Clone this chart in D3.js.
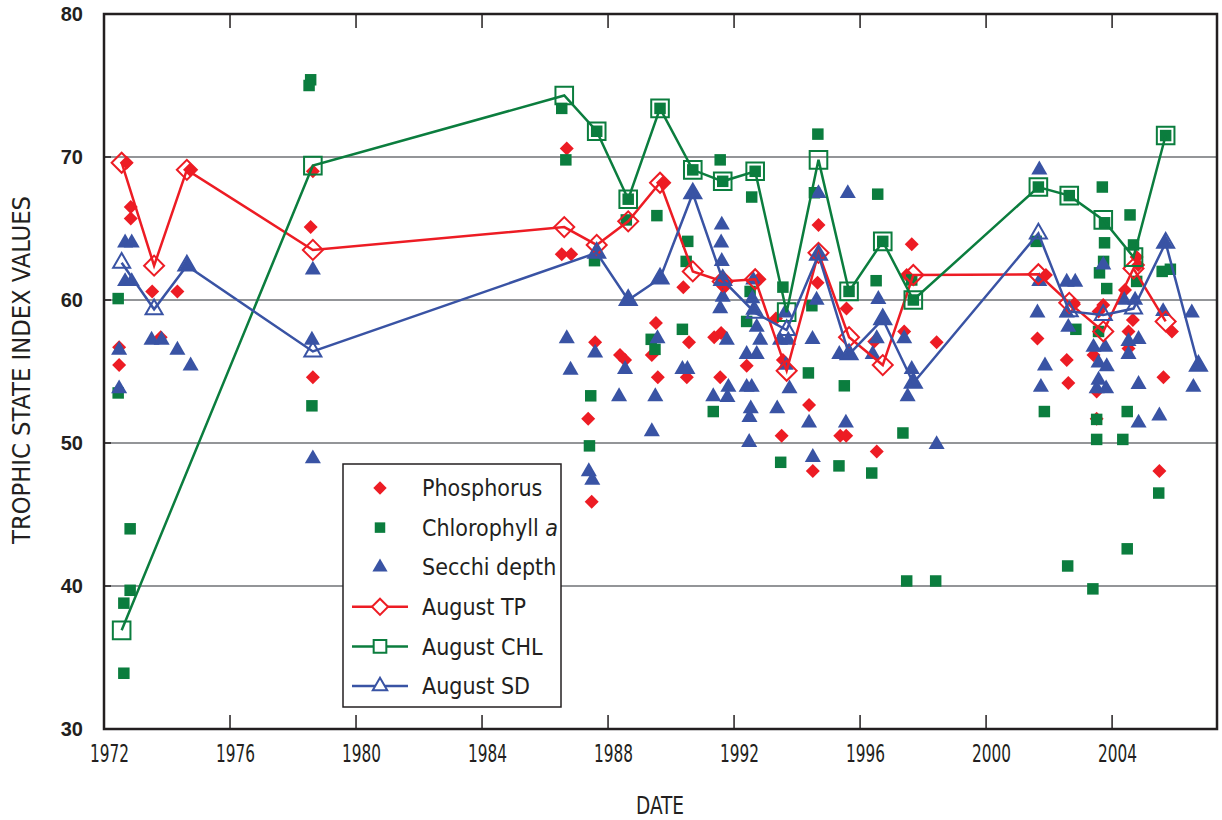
<!DOCTYPE html>
<html>
<head>
<meta charset="utf-8">
<script src="https://cdn.jsdelivr.net/npm/d3@7"></script>
<style>
  body { margin: 0; background: #fff; }
  .narrow { font-family: "Liberation Sans Narrow", "DejaVu Sans Condensed", "Roboto", sans-serif; fill: #231f20; }
  .ytick { font-family: "Liberation Sans", Arial, sans-serif; fill: #231f20; }
</style>
</head>
<body>
<svg class="chart"></svg>
<script>
// decimal year, trophic state index
var phosphorus = [
  [1972.48, 56.7], [1972.48, 55.45], [1972.72, 69.6], [1972.85, 66.5], [1972.85, 65.7],
  [1973.53, 60.6], [1973.80, 57.4], [1974.33, 60.6], [1974.73, 69.1],
  [1978.56, 65.1], [1978.63, 69.0], [1978.63, 54.6],
  [1986.69, 70.6], [1986.53, 63.2], [1986.83, 63.2],
  [1987.59, 57.05], [1987.37, 51.7], [1987.48, 45.9],
  [1988.38, 56.15], [1988.54, 55.8],
  [1989.52, 58.4], [1989.39, 56.15], [1989.58, 54.6], [1989.74, 68.2],
  [1990.39, 60.9], [1990.57, 57.05], [1990.50, 54.6],
  [1991.69, 60.9], [1991.37, 57.4], [1991.59, 57.7], [1991.56, 54.6],
  [1992.77, 61.45], [1992.40, 55.4],
  [1993.33, 58.7], [1993.55, 55.8], [1993.51, 50.5],
  [1994.38, 52.65], [1994.50, 48.05], [1994.68, 65.25], [1994.65, 61.2],
  [1995.57, 59.4], [1995.37, 50.5], [1995.56, 50.5],
  [1996.45, 57.1], [1996.53, 49.4],
  [1997.40, 57.8], [1997.48, 61.75], [1997.64, 63.9], [1998.43, 57.05],
  [2001.63, 57.3], [2001.90, 61.75],
  [2002.79, 59.7], [2002.56, 55.8], [2002.61, 54.2],
  [2003.72, 59.65], [2003.57, 59.2], [2003.41, 56.15], [2003.51, 53.6], [2003.51, 51.7],
  [2004.41, 60.7], [2004.78, 63.0], [2004.83, 62.45], [2004.66, 58.6], [2004.52, 57.8], [2004.52, 56.6],
  [2005.90, 57.8], [2005.63, 54.6], [2005.50, 48.05]
];

var chlorophyll = [
  [1972.45, 60.1], [1972.45, 53.5], [1972.83, 44.0], [1972.83, 39.7], [1972.63, 38.8], [1972.63, 33.9],
  [1978.56, 75.4], [1978.51, 75.0], [1978.60, 52.6],
  [1986.53, 73.4], [1986.66, 69.8],
  [1987.57, 62.75], [1987.45, 53.3], [1987.41, 49.8], [1987.64, 71.8],
  [1988.58, 65.6], [1988.64, 67.05],
  [1989.55, 65.9], [1989.37, 57.25], [1989.49, 56.55], [1989.65, 73.4],
  [1990.36, 57.95], [1990.53, 64.1], [1990.48, 62.7], [1990.69, 69.1],
  [1991.56, 69.8], [1991.34, 52.2], [1991.64, 68.3],
  [1992.56, 67.2], [1992.51, 60.6], [1992.40, 58.5], [1992.67, 69.0],
  [1993.55, 60.9], [1993.48, 48.65],
  [1994.66, 71.6], [1994.55, 67.5], [1994.47, 59.6], [1994.36, 54.9],
  [1995.50, 54.0], [1995.33, 48.4], [1995.65, 60.6],
  [1996.56, 67.4], [1996.51, 61.35], [1996.37, 47.9], [1996.72, 64.1],
  [1997.64, 61.4], [1997.36, 50.7], [1997.48, 40.35], [1997.69, 60.0],
  [1998.40, 40.35],
  [2001.59, 64.1], [2001.85, 52.2], [2001.66, 67.9],
  [2002.85, 57.95], [2002.59, 41.4], [2002.64, 67.3],
  [2003.69, 67.9], [2003.76, 65.4], [2003.76, 64.0], [2003.73, 62.7], [2003.60, 61.9],
  [2003.83, 60.8], [2003.57, 57.8], [2003.51, 51.65], [2003.51, 50.25], [2003.39, 39.8],
  [2004.34, 50.25], [2004.48, 52.2], [2004.48, 42.6], [2004.57, 65.95], [2004.68, 63.85], [2004.78, 61.3],
  [2005.59, 62.0], [2005.85, 62.15], [2005.48, 46.5], [2005.70, 71.5]
];

var secchi = [
  [1972.48, 56.5], [1972.48, 53.8], [1972.67, 64.0], [1972.88, 64.0], [1972.67, 61.3], [1972.88, 61.3],
  [1973.51, 57.2], [1973.83, 57.2], [1974.33, 56.5], [1974.75, 55.4], [1974.64, 62.4],
  [1978.63, 62.1], [1978.60, 57.2], [1978.63, 48.9],
  [1986.69, 57.3], [1986.81, 55.1],
  [1987.64, 63.3], [1987.59, 56.3], [1987.39, 48.0], [1987.50, 47.4],
  [1988.54, 55.15], [1988.35, 53.25], [1988.64, 60.0],
  [1989.65, 61.5], [1989.57, 57.3], [1989.50, 53.25], [1989.39, 50.8],
  [1990.69, 67.45], [1990.36, 55.15], [1990.52, 55.15],
  [1991.61, 65.25], [1991.59, 64.0], [1991.61, 62.7], [1991.64, 61.4], [1991.64, 60.2], [1991.56, 59.4],
  [1991.77, 57.2], [1991.82, 53.9], [1991.34, 53.25], [1991.79, 53.2],
  [1992.61, 61.4], [1992.58, 60.1], [1992.61, 59.3], [1992.72, 58.1], [1992.83, 57.2],
  [1992.40, 56.2], [1992.72, 56.2], [1992.40, 53.9], [1992.56, 53.9], [1992.53, 52.4], [1992.49, 51.8], [1992.48, 50.05],
  [1993.62, 59.1], [1993.46, 57.2], [1993.72, 57.2], [1993.64, 55.45], [1993.76, 53.8], [1993.37, 52.4],
  [1994.68, 67.45], [1994.68, 63.15], [1994.62, 60.0], [1994.49, 57.25], [1994.38, 51.4], [1994.50, 49.0],
  [1995.61, 67.45], [1995.34, 56.2], [1995.66, 56.2], [1995.55, 51.4],
  [1996.58, 60.05], [1996.72, 58.65], [1996.53, 57.3], [1996.40, 56.2],
  [1997.40, 57.3], [1997.64, 55.15], [1997.69, 54.2], [1997.51, 53.25],
  [1998.43, 49.9],
  [2001.69, 69.1], [2001.69, 61.3], [2001.63, 59.1], [2001.87, 55.4], [2001.74, 53.9],
  [2002.56, 61.25], [2002.83, 61.25], [2002.56, 59.1], [2002.61, 58.1],
  [2003.72, 62.45], [2003.41, 56.7], [2003.78, 56.7], [2003.57, 55.6], [2003.83, 55.35],
  [2003.57, 54.4], [2003.51, 53.8], [2003.81, 53.8],
  [2004.38, 60.0], [2004.73, 60.0], [2004.52, 57.1], [2004.84, 57.25], [2004.52, 56.2], [2004.84, 54.1], [2004.84, 51.4],
  [2005.68, 64.0], [2005.62, 59.2], [2005.50, 51.9],
  [2006.53, 59.1], [2006.74, 55.4], [2006.58, 53.9]
];

var augustTP = [
  [1972.56, 69.6], [1973.59, 62.4], [1974.63, 69.1], [1978.63, 63.5], [1986.61, 65.1],
  [1987.64, 63.85], [1988.64, 65.5], [1989.65, 68.2], [1990.69, 62.0], [1991.64, 61.3],
  [1992.67, 61.45], [1993.67, 55.05], [1994.68, 63.3], [1995.65, 57.4], [1996.72, 55.45],
  [1997.69, 61.75], [2001.66, 61.8], [2002.64, 59.8], [2003.72, 57.8], [2004.68, 62.2], [2005.70, 58.5]
];

var augustCHL = [
  [1972.56, 36.9], [1978.63, 69.4], [1986.61, 74.3], [1987.64, 71.8], [1988.64, 67.05],
  [1989.65, 73.4], [1990.69, 69.1], [1991.64, 68.3], [1992.67, 69.0], [1993.67, 59.15],
  [1994.68, 69.8], [1995.65, 60.6], [1996.72, 64.1], [1997.69, 60.0], [2001.66, 67.9],
  [2002.64, 67.3], [2003.72, 65.6], [2004.68, 63.0], [2005.70, 71.5]
];

var augustSD = [
  [1972.56, 62.6], [1973.59, 59.35], [1974.63, 62.4], [1978.63, 56.4], [1987.64, 63.3],
  [1988.64, 60.0], [1989.65, 61.5], [1990.69, 67.45], [1991.64, 61.4], [1992.67, 59.1],
  [1993.67, 57.9], [1994.68, 63.15], [1995.65, 56.2], [1996.72, 58.65], [1997.69, 54.2],
  [2001.66, 64.65], [2002.64, 59.2], [2003.72, 58.95], [2004.68, 59.4], [2005.70, 64.0], [2006.74, 55.4]
];

var xTicks = [1972, 1976, 1980, 1984, 1988, 1992, 1996, 2000, 2004];
var yTicks = [30, 40, 50, 60, 70, 80];
var legendLabels = ["Phosphorus", "Chlorophyll ", "Secchi depth", "August TP", "August CHL", "August SD"];

var red = "#ed1c24", green = "#0b7d3e", blue = "#3953a4";

var margin = {top: 14, right: 1217, bottom: 729, left: 104},
    W = 1222, H = 820;

var svg = d3.select(".chart").attr("width", W).attr("height", H);

var x = d3.scaleLinear().domain([1972, 2007.33]).range([margin.left, margin.right]);
var y = d3.scaleLinear().domain([30, 80]).range([margin.bottom, margin.top]);

// gridlines
svg.append("g").selectAll("line")
    .data(yTicks.filter(function (d) { return d > 30 && d < 80; }))
  .enter().append("line")
    .attr("x1", margin.left).attr("x2", margin.right)
    .attr("y1", function (d) { return y(d); })
    .attr("y2", function (d) { return y(d); })
    .attr("stroke", "#939598").attr("stroke-width", 2);

// ticks (inside, top and bottom)
var tickG = svg.append("g").attr("stroke", "#231f20").attr("stroke-width", 1.5);
xTicks.slice(1).forEach(function (t) {
  tickG.append("line").attr("x1", x(t)).attr("x2", x(t)).attr("y1", margin.bottom).attr("y2", margin.bottom - 14);
  tickG.append("line").attr("x1", x(t)).attr("x2", x(t)).attr("y1", margin.top).attr("y2", margin.top + 14);
});
yTicks.slice(1, -1).forEach(function (t) {
  tickG.append("line").attr("x1", margin.left).attr("x2", margin.left + 7).attr("y1", y(t)).attr("y2", y(t));
});

// axis labels via d3 axes, no domain or tick lines
var xAxis = svg.append("g")
    .attr("transform", "translate(5," + margin.bottom + ")")
    .call(d3.axisBottom(x).tickValues(xTicks).tickFormat(d3.format("d")).tickSize(0).tickPadding(15));
xAxis.select(".domain").remove();
xAxis.selectAll("text").attr("class", "narrow").attr("font-size", 25)
    .attr("textLength", 39).attr("lengthAdjust", "spacingAndGlyphs");

var yAxis = svg.append("g")
    .attr("transform", "translate(" + margin.left + ",0)")
    .call(d3.axisLeft(y).tickValues(yTicks).tickSize(0).tickPadding(21));
yAxis.select(".domain").remove();
yAxis.selectAll("text").attr("class", "ytick").attr("font-size", 20).attr("font-weight", "bold").attr("fill", "#333");

// scatter points
var sym = function (type, size) { return d3.symbol().type(type).size(size)(); };

svg.append("g").selectAll("path").data(phosphorus).enter().append("path")
    .attr("d", sym(d3.symbolSquare, 98))
    .attr("transform", function (d) { return "translate(" + x(d[0]) + "," + y(d[1]) + ") rotate(45)"; })
    .attr("fill", red);

svg.append("g").selectAll("path").data(chlorophyll).enter().append("path")
    .attr("d", sym(d3.symbolSquare, 132))
    .attr("transform", function (d) { return "translate(" + x(d[0]) + "," + y(d[1]) + ")"; })
    .attr("fill", green);

svg.append("g").selectAll("path").data(secchi).enter().append("path")
    .attr("d", sym(d3.symbolTriangle, 112))
    .attr("transform", function (d) { return "translate(" + x(d[0]) + "," + y(d[1]) + ")"; })
    .attr("fill", blue);

// August series
var line = d3.line().x(function (d) { return x(d[0]); }).y(function (d) { return y(d[1]); });

var augSeries = [
  { data: augustTP, color: red, type: d3.symbolSquare, size: 200, rot: 45 },
  { data: augustCHL, color: green, type: d3.symbolSquare, size: 310, rot: 0 },
  { data: augustSD, color: blue, type: d3.symbolTriangle, size: 125, rot: 0 }
];

augSeries.forEach(function (s) {
  svg.append("path").datum(s.data)
      .attr("d", line)
      .attr("fill", "none").attr("stroke", s.color).attr("stroke-width", 2.5);
  svg.append("g").selectAll("path").data(s.data).enter().append("path")
      .attr("d", sym(s.type, s.size))
      .attr("transform", function (d) { return "translate(" + x(d[0]) + "," + y(d[1]) + ") rotate(" + s.rot + ")"; })
      .attr("fill", "none").attr("stroke", s.color).attr("stroke-width", 2);
});

// frame
svg.append("rect")
    .attr("x", margin.left).attr("y", margin.top)
    .attr("width", margin.right - margin.left).attr("height", margin.bottom - margin.top)
    .attr("fill", "none").attr("stroke", "#231f20").attr("stroke-width", 2.5);

// legend
var lg = svg.append("g").attr("transform", "translate(343,464)");
lg.append("rect").attr("width", 218).attr("height", 243)
    .attr("fill", "#fff").attr("stroke", "#231f20").attr("stroke-width", 1.5);

var legendItems = [
  { color: red, type: d3.symbolSquare, size: 90, rot: 45, filled: true },
  { color: green, type: d3.symbolSquare, size: 110, rot: 0, filled: true },
  { color: blue, type: d3.symbolTriangle, size: 100, rot: 0, filled: true },
  { color: red, type: d3.symbolSquare, size: 130, rot: 45, filled: false },
  { color: green, type: d3.symbolSquare, size: 160, rot: 0, filled: false },
  { color: blue, type: d3.symbolTriangle, size: 90, rot: 0, filled: false }
];

legendItems.forEach(function (it, i) {
  var cy = 24 + i * 39.6;
  if (!it.filled) {
    lg.append("line").attr("x1", 9).attr("x2", 65).attr("y1", cy).attr("y2", cy)
        .attr("stroke", it.color).attr("stroke-width", 2.5);
  }
  lg.append("path")
      .attr("d", sym(it.type, it.size))
      .attr("transform", "translate(37," + cy + ") rotate(" + it.rot + ")")
      .attr("fill", it.filled ? it.color : "#fff")
      .attr("stroke", it.filled ? "none" : it.color).attr("stroke-width", 2);
  var t = lg.append("text").attr("class", "narrow")
      .attr("x", 79).attr("y", cy).attr("dy", "0.36em")
      .attr("font-size", 23)
      .text(legendLabels[i]);
  if (i === 1) t.append("tspan").attr("font-style", "italic").text("a");
});

// axis titles
svg.append("text").attr("class", "narrow")
    .attr("transform", "translate(30,370) rotate(-90)")
    .attr("text-anchor", "middle").attr("font-size", 25)
    .attr("textLength", 348).attr("lengthAdjust", "spacingAndGlyphs")
    .text("TROPHIC STATE INDEX VALUES");

svg.append("text").attr("class", "narrow")
    .attr("x", 660).attr("y", 814)
    .attr("text-anchor", "middle").attr("font-size", 24)
    .attr("textLength", 48).attr("lengthAdjust", "spacingAndGlyphs")
    .text("DATE");
</script>
</body>
</html>
